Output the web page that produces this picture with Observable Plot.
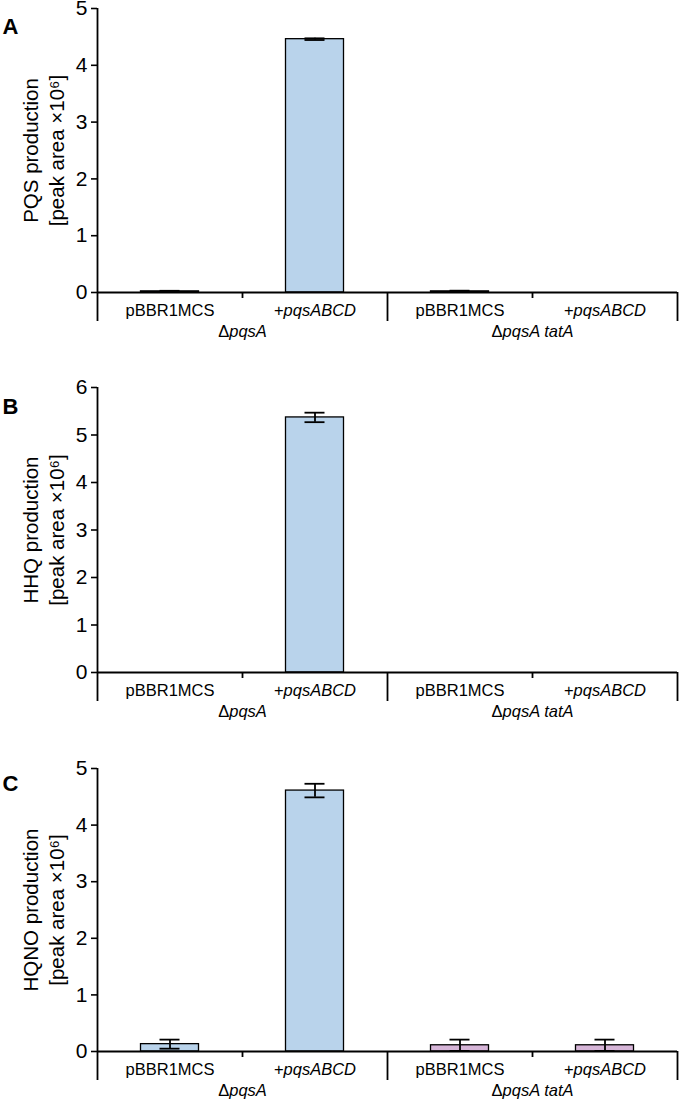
<!DOCTYPE html>
<html><head><meta charset="utf-8">
<script src="https://cdn.jsdelivr.net/npm/d3@7"></script>
<script src="https://cdn.jsdelivr.net/npm/@observablehq/plot@0.6"></script>
<style>
html,body{margin:0;padding:0;background:#fff;}
#chart svg{display:block;}
</style></head><body><div id="chart"></div>
<script>
// ---- data ----
const groups = ["ΔpqsA", "ΔpqsA", "ΔpqsA tatA", "ΔpqsA tatA"];
const vectors = ["pBBR1MCS", "+pqsABCD", "pBBR1MCS", "+pqsABCD"];
const groupNames = ["ΔpqsA", "ΔpqsA tatA"];
const groupColors = ["#b9d3eb", "#d6b5d8"];
const panelLetters = ["A", "B", "C"];
const yLabels = [
  "PQS production\n[peak area ×10⁶]",
  "HHQ production\n[peak area ×10⁶]",
  "HQNO production\n[peak area ×10⁶]"
];
const pqsMean  = [0.02, 4.46, 0.02, 0];
const pqsErr   = [0.01, 0.015, 0.012, 0];
const hhqMean  = [0, 5.37, 0, 0];
const hhqErr   = [0, 0.1, 0, 0];
const hqnoMean = [0.13, 4.61, 0.11, 0.11];
const hqnoErr  = [0.08, 0.12, 0.10, 0.10];
const yTicksA = [0, 1, 2, 3, 4, 5];
const yTicksB = [0, 1, 2, 3, 4, 5, 6];
const yTicksC = [0, 1, 2, 3, 4, 5];
const yMax = [5, 6, 5];

// ---- layout ----
const W = 680, ML = 97, MR = 3;
const FONT = "'Liberation Sans', Arial, Helvetica, sans-serif";
const panels = [
  {mean: pqsMean, err: pqsErr, ticks: yTicksA, height: 372, mt: 8, mb: 80, letterDy: 10},
  {mean: hhqMean, err: hhqErr, ticks: yTicksB, height: 382, mt: 15, mb: 82, letterDy: 11},
  {mean: hqnoMean, err: hqnoErr, ticks: yTicksC, height: 345, mt: 14, mb: 48, letterDy: 7}
];

const keys = vectors.map((v, i) => groups[i] + "|" + v);
const bw = (W - ML - MR) / keys.length;
const firstOfGroup = groupNames.map(g => keys[groups.indexOf(g)]);
const secondOfGroup = groupNames.map(g => keys[groups.indexOf(g) + 1]);

function italicize(svg) {
  const rules = {
    "+pqsABCD": ["+", "pqsABCD"],
    "ΔpqsA": ["Δ", "pqsA"],
    "ΔpqsA tatA": ["Δ", "pqsA tatA"]
  };
  d3.select(svg).selectAll("text").each(function () {
    if (this.children.length) return;
    const r = rules[this.textContent];
    if (!r) return;
    const s = d3.select(this).text("");
    s.append("tspan").text(r[0]);
    s.append("tspan").attr("font-style", "italic").text(r[1]);
  });
}

panels.forEach((p, pi) => {
  const rows = keys.map((k, i) => ({key: k, group: groups[i], vector: vectors[i], mean: p.mean[i], err: p.err[i]}));
  const frameH = p.height - p.mt - p.mb;
  const withErr = rows.filter(d => d.err > 0);
  const capInset = (bw - 20) / 2;
  const plot = Plot.plot({
    width: W, height: p.height,
    marginLeft: ML, marginRight: MR, marginTop: p.mt, marginBottom: p.mb,
    style: {fontFamily: FONT, fontSize: "21px", color: "#000", background: "#fff", overflow: "visible"},
    x: {type: "band", domain: keys, padding: 0, axis: null},
    y: {domain: [0, yMax[pi]], axis: null},
    color: {domain: groupNames, range: groupColors},
    marks: [
      Plot.barY(rows.filter(d => d.mean > 0), {x: "key", y: "mean", fill: "group", stroke: "#000", strokeWidth: 1.3, insetLeft: bw * 0.3, insetRight: bw * 0.3}),
      Plot.ruleX(withErr, {x: "key", y1: d => Math.max(0, d.mean - d.err), y2: d => d.mean + d.err, stroke: "#000", strokeWidth: 1.8}),
      Plot.tickY(withErr, {x: "key", y: d => d.mean + d.err, stroke: "#000", strokeWidth: 1.8, insetLeft: capInset, insetRight: capInset}),
      Plot.tickY(withErr, {x: "key", y: d => Math.max(0, d.mean - d.err), stroke: "#000", strokeWidth: 1.8, insetLeft: capInset, insetRight: capInset}),
      Plot.ruleY([0], {stroke: "#000", strokeWidth: 1.8}),
      Plot.axisY(p.ticks, {label: null, tickSize: 6, tickPadding: 4, fontSize: 21, strokeWidth: 1.6, tickFormat: d => String(d)}),
      // left axis line (extends below baseline)
      Plot.ruleX([keys[0]], {x: d => d, dx: -bw / 2, insetBottom: -29, stroke: "#000", strokeWidth: 1.8}),
      // group separators / right end
      Plot.ruleX(firstOfGroup.slice(1), {x: d => d, dx: -bw / 2, insetTop: frameH, insetBottom: -29, stroke: "#000", strokeWidth: 1.8}),
      Plot.ruleX([keys[keys.length - 1]], {x: d => d, dx: bw / 2, insetTop: frameH, insetBottom: -29, stroke: "#000", strokeWidth: 1.8}),
      // short ticks between vectors within a group
      Plot.ruleX(secondOfGroup, {x: d => d, dx: -bw / 2, insetTop: frameH, insetBottom: -6, stroke: "#000", strokeWidth: 1.8}),
      // category labels
      Plot.text(rows, {x: "key", text: "vector", frameAnchor: "bottom", dy: 18, fontSize: 16.5, lineAnchor: "middle"}),
      // group labels
      Plot.text(groupNames, {x: g => keys[groups.indexOf(g)], text: d => d, frameAnchor: "bottom", dx: bw / 2, dy: 39, fontSize: 16.5, lineAnchor: "middle"}),
      // y-axis title
      Plot.text([yLabels[pi]], {text: d => d, frameAnchor: "left", dx: -55, rotate: -90, fontSize: 20.5, lineHeight: 1.25, textAnchor: "middle", lineAnchor: "middle"}),
      // panel letter
      Plot.text([panelLetters[pi]], {text: d => d, frameAnchor: "top-left", dx: -95, dy: p.letterDy, fontSize: 22, fontWeight: "bold", textAnchor: "start", lineAnchor: "top"})
    ]
  });
  italicize(plot);
  document.getElementById("chart").appendChild(plot);
});
</script>
</body></html>
